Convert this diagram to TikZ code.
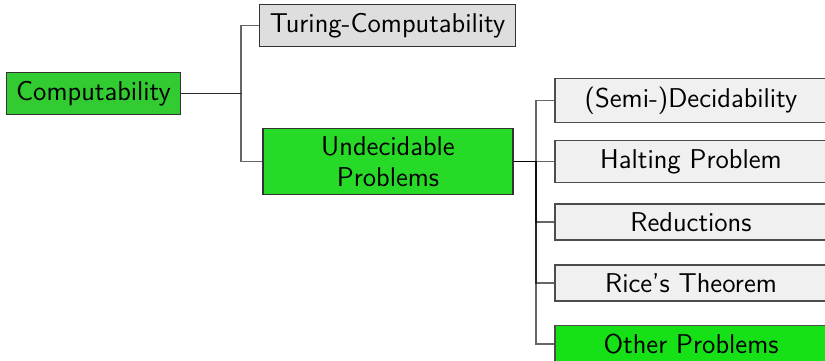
\documentclass[tikz,border=0pt]{standalone}
\definecolor{rootgreen}{RGB}{50,204,50}
\definecolor{undecgreen}{RGB}{40,218,40}
\definecolor{othergreen}{RGB}{22,224,22}
\definecolor{turinggray}{RGB}{222,222,222}
\definecolor{leafgray}{RGB}{240,240,240}
\begin{document}
\begin{tikzpicture}[x=0.5pt, y=-0.5pt,
		font=\sffamily\fontsize{13.6}{15.2}\selectfont,
		topic/.style={rectangle,draw=black!80,line width=0.6pt,inner xsep=5pt,inner ysep=4.2pt,align=center},
		leaf/.style={topic,draw=black!70,fill=leafgray,minimum width=136pt},
		link/.style={draw=black,draw opacity=0.6,line width=0.7pt}
		]
	\useasboundingbox (0,0) rectangle (825,360);
	% first level
	\node [topic,fill=rootgreen] (comp) at (93.5,93.5) {Computability};
	\node [topic,fill=turinggray] (turing) at (387.5,25.5) {Turing-Computability};
	\node [topic,fill=undecgreen,minimum width=125pt] (undec) at (388,161.5) {Undecidable\\Problems};
	% second level
	\node [leaf] (semi) at (691,100.5) {(Semi-)Decidability};
	\node [leaf] (halt) at (691,161.5) {Halting Problem};
	\node [leaf] (red) at (691,222) {Reductions};
	\node [leaf] (rice) at (691,283) {Rice's Theorem};
	\node [leaf,fill=othergreen] (other) at (691,344) {Other Problems};
	% forks
	\coordinate (fork1) at (241,93.5);
	\coordinate (fork2) at (536,161.5);
	\foreach \kid in {turing,undec}
		\draw [link] (comp.east) -- (fork1) |- (\kid.west);
	\foreach \kid in {semi,halt,red,rice,other}
		\draw [link] (undec.east) -- (fork2) |- (\kid.west);
\end{tikzpicture}
\end{document}
